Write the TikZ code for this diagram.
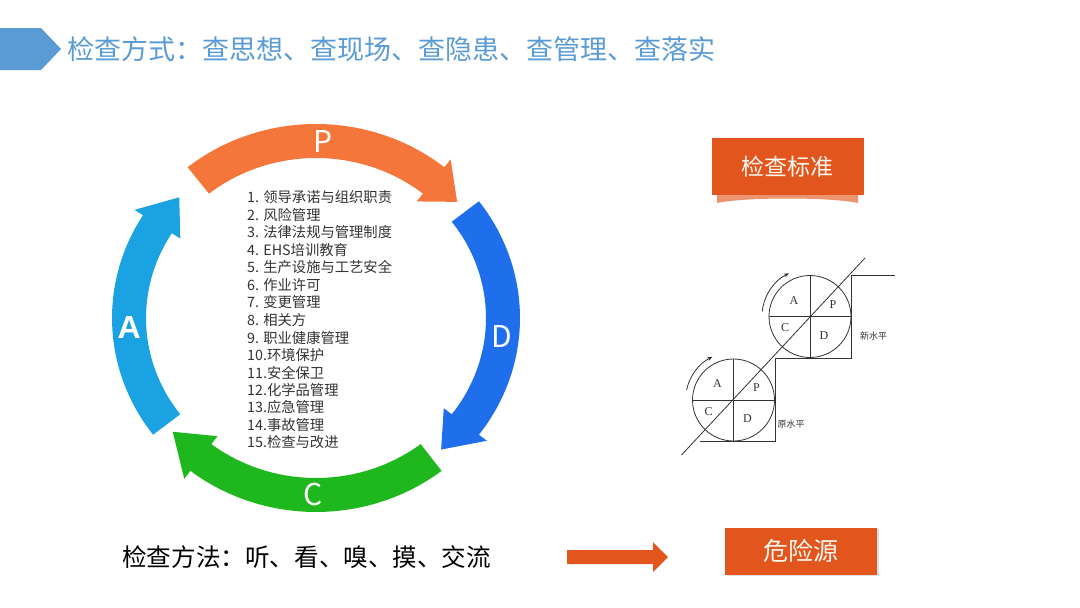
\documentclass[tikz,border=0pt]{standalone}
\usepackage{fontspec}
\setmainfont{Noto Sans CJK SC}
\newfontfamily\heavy{Liberation Sans}
\newfontfamily\serif{Liberation Serif}
\usepackage{tikz}
\usetikzlibrary{
	arrows.meta,
	shadows
}
\definecolor{headblue}{HTML}{5B9BD5}
\definecolor{pdcaP}{HTML}{F4763A}
\definecolor{pdcaD}{HTML}{1F6EEC}
\definecolor{pdcaC}{HTML}{1EB81E}
\definecolor{pdcaA}{HTML}{1AA2E3}
\definecolor{flame}{HTML}{E2561E}
\definecolor{ink}{HTML}{333333}

\begin{document}
\begin{tikzpicture}[x=1pt,y=-1pt,
		box/.style={fill=flame,text=white!95!orange,minimum width=152pt,inner sep=0pt},
		item/.style={anchor=west,inner sep=0pt,text=ink,font=\fontsize{14.3}{14.3}\selectfont},
		letter/.style={text=white,inner sep=0pt,font=\fontsize{30}{30}\selectfont},
		stair/.style={draw=ink,line width=0.8pt},
		quad/.style={circle,draw=ink,line width=0.8pt,minimum size=82pt,inner sep=0pt},
		tag/.style={inner sep=0pt,text=ink,font=\serif\fontsize{12}{12}\selectfont}
	]
		\path[use as bounding box,fill=white] (0,0) rectangle (1080,608);

		% header
		\fill[headblue] (0,28) -- (41,28) -- (61,49) -- (41,70) -- (0,70) -- cycle;
		\node[anchor=west,inner sep=0pt,text=headblue,font=\fontsize{27}{27}\selectfont]
			(title) at (67,49) {检查方式：查思想、查现场、查隐患、查管理、查落实};

		% PDCA ring
		\foreach \ts/\tb/\tt/\col in {129/51/41/pdcaP, 37/-37/-48/pdcaD, -52/-128/-140/pdcaC, 217/148/137/pdcaA}
			\fill[\col] plot[domain=\ts:\tb,samples=40] ({316+204*cos(\x)},{318-194*sin(\x)})
				-- ({316+214*cos(\tb)},{318-204*sin(\tb)})
				-- ({316+187*cos(\tt)},{318-177*sin(\tt)})
				-- ({316+160*cos(\tb)},{318-150*sin(\tb)})
				-- plot[domain=\tb:\ts,samples=40] ({316+170*cos(\x)},{318-160*sin(\x)}) -- cycle;

		\foreach \t/\lab/\nm in {88/P/lp, -6/D/ld, -91/C/lc, 183/{\heavy\bfseries\fontsize{32}{32}\selectfont A}/la}
			\node[letter] (\nm) at ({316+187*cos(\t)},{318-177*sin(\t)}) {\lab};

		\foreach \txt [count=\i] in {1. 领导承诺与组织职责, 2. 风险管理, 3. 法律法规与管理制度,
			4. EHS培训教育, 5. 生产设施与工艺安全, 6. 作业许可, 7. 变更管理, 8. 相关方,
			9. 职业健康管理, 10.环境保护, 11.安全保卫, 12.化学品管理, 13.应急管理,
			14.事故管理, 15.检查与改进}
			\node[item] (l\i) at (247,{197.5+17.5*(\i-1)}) {\txt};

		% boxes
		\fill[flame!85,opacity=.75] (717,194) -- (858,194) -- (858,203)
			.. controls (830,197) and (745,197) .. (717,203) -- cycle;
		\node[box,minimum height=57pt,font=\fontsize{23}{23}\selectfont] (std) at (787.5,166.5) {检查标准};
		\node[box,minimum height=47pt,font=\fontsize{25}{25}\selectfont,
			drop shadow={opacity=.25,shadow xshift=1.5pt,shadow yshift=-1.5pt}]
			(src) at (801,551) {危险源};

		% method + arrow
		\node[anchor=west,inner sep=0pt,text=black,font=\fontsize{24.6}{24.6}\selectfont]
			(method) at (122,557) {检查方法：听、看、嗅、摸、交流};
		\coordinate (go) at (567,557);
		\fill[flame] (go) ++(0,-7) -- ++(86,0) -- ++(0,-8) -- ++(15,15) -- ++(-15,15)
			-- ++(0,-8) -- ++(-86,0) -- cycle;

		% staircase
		\node[quad] (lo) at (733.5,400) {};
		\node[quad] (hi) at (810,316.5) {};
		\draw[stair] (lo.north) -- (lo.south) (lo.west) -- (lo.east)
			(hi.north) -- (hi.south) (hi.west) -- (hi.east);
		\coordinate (d0) at (681.5,455);
		\coordinate (d1) at (865,258);
		\draw[stair] (d0) -- (d1);
		\coordinate (s0) at (700,441.5);
		\coordinate (s5) at (895,275);
		\draw[stair] (s0) -| (lo.east |- hi.south) -| (hi.east |- s5) -- (s5);
		\draw[stair,-{Stealth[length=5pt,width=4pt]}] (lo.center) ++(168:48pt) arc[start angle=168,end angle=116,radius=48pt];
		\draw[stair,-{Stealth[length=5pt,width=4pt]}] (hi.center) ++(174:48pt) arc[start angle=174,end angle=116,radius=48pt];
		\foreach \c in {lo,hi} {
			\node[tag] at ([shift={(-16,-16)}]\c.center) {A};
			\node[tag] at ([shift={(23,-12)}]\c.center) {P};
			\node[tag] at ([shift={(-25,11.5)}]\c.center) {C};
			\node[tag] at ([shift={(14,19)}]\c.center) {D};
		}
		\node[inner sep=0pt,text=ink,font=\fontsize{9}{9}\selectfont] (new) at (873.5,336) {新水平};
		\node[inner sep=0pt,text=ink,font=\fontsize{9}{9}\selectfont] (old) at (791,424) {原水平};
	\end{tikzpicture}
\end{document}
